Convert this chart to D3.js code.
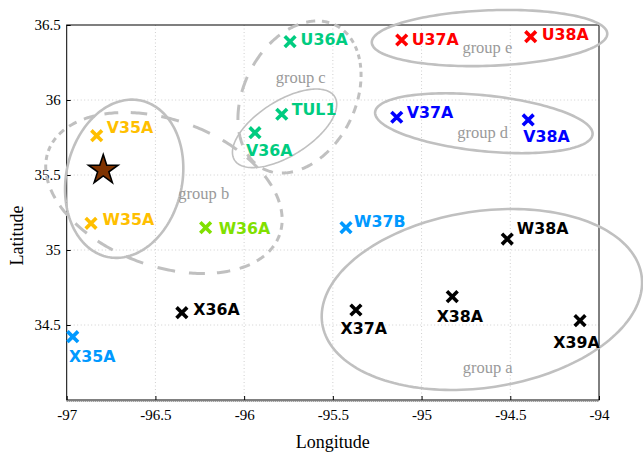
<!DOCTYPE html>
<html>
<head>
<meta charset="utf-8">
<script src="https://cdn.jsdelivr.net/npm/d3@7"></script>
<style>
  html, body { margin: 0; padding: 0; background: #fff; }
  svg { display: block; }
</style>
</head>
<body>
<svg id="chart" width="643" height="452"></svg>
<script>
// ---- station data ----
const stations = ["V35A", "W35A", "X35A", "X36A", "W36A", "U36A", "TUL1", "V36A", "U37A",
                  "U38A", "V37A", "V38A", "W37B", "X37A", "W38A", "X38A", "X39A"];
const stationLon = [-96.831, -96.863, -96.966, -96.351, -96.217, -95.741, -95.788, -95.939, -95.112,
                    -94.385, -95.140, -94.399, -95.426, -95.370, -94.517, -94.827, -94.107];
const stationLat = [35.762, 35.178, 34.422, 34.582, 35.149, 36.389, 35.905, 35.782, 36.400,
                    36.422, 35.885, 35.867, 35.149, 34.600, 35.073, 34.689, 34.529];

// event location
const eventLon = [-96.794];
const eventLat = [35.533];

// ---- station groupings (ellipse centre, half-axes in degrees, tilt in degrees) ----
const groupOutline = ["a", "b", "b2", "c", "c2", "d", "e"];
const groupLon  = [-94.660, -96.676, -96.452, -95.772, -95.688, -94.649, -94.617];
const groupLat  = [34.670, 35.475, 35.380, 35.811, 36.020, 35.845, 36.413];
const groupRx   = [0.910, 0.327, 0.693, 0.334, 0.453, 0.616, 0.664];
const groupRy   = [0.588, 0.533, 0.487, 0.183, 0.372, 0.186, 0.185];
const groupTilt = [-8.6, 12, 20, -32.4, -63.3, 5.9, -2.2];
const groupDashed = [false, false, true, false, true, false, false];

// group captions
const groupLabels = ["group a", "group b", "group c", "group d", "group e"];
const groupLabelLon = [-94.768, -96.371, -95.822, -94.799, -94.770];
const groupLabelLat = [34.178, 35.338, 36.111, 35.749, 36.313];

// axis ticks
const lonTicks = [-97, -96.5, -96, -95.5, -95, -94.5, -94];
const latTicks = [34.5, 35, 35.5, 36, 36.5];

// ---- styling ----
const stationColor = {
  V35A: "#ffbf00", W35A: "#ffbf00",
  X35A: "#0099ff", W37B: "#0099ff",
  W36A: "#80e000",
  U36A: "#00cc80", TUL1: "#00cc80", V36A: "#00cc80",
  U37A: "#ff0000", U38A: "#ff0000",
  V37A: "#0000ff", V38A: "#0000ff",
  X36A: "#000", X37A: "#000", W38A: "#000", X38A: "#000", X39A: "#000"
};
// text offset from the marker: [dx to text start, dy to baseline]
const labelOffset = {
  V35A: [10, -3], W35A: [11.5, 1.5], W36A: [13, 6], U36A: [10.5, 3.5], TUL1: [10, 1],
  U37A: [10, 5], U38A: [11, 3.5], V37A: [10, 1], W37B: [8, -1], W38A: [9.5, -5], X36A: [11.5, 2],
  X35A: [-3.7, 25], V36A: [-9, 23.5], X37A: [-15.3, 24], V38A: [-5, 22], X38A: [-15.6, 25.6],
  X39A: [-26.7, 27.6]
};
// dash layout of the dashed outlines: count, and how the dash spacing swells around the loop
const dashStyle = {
  b2: { n: 30, w1: 0.1, p1: Math.PI, w2: 0.3, p2: 0 },
  c2: { n: 25, w1: 0.5, p1: Math.PI / 4, w2: 0, p2: 0 }
};

const svg = d3.select("#chart");
const plot = { left: 66.7, right: 599, top: 25, bottom: 400 };

const x = d3.scaleLinear().domain([-97, -94]).range([plot.left, plot.right]);
const y = d3.scaleLinear().domain([34, 36.5]).range([plot.bottom, plot.top]);

const serif = "'Liberation Serif', 'DejaVu Serif', serif";
const sans = "'DejaVu Sans', sans-serif";

// grid
const grid = svg.append("g").attr("stroke", "#cfcfcf").attr("stroke-width", 1)
  .attr("stroke-dasharray", "1,2.5");
grid.selectAll(".gx").data(lonTicks.slice(1, -1)).join("line")
  .attr("x1", d => x(d)).attr("x2", d => x(d))
  .attr("y1", plot.top).attr("y2", plot.bottom);
grid.selectAll(".gy").data(latTicks.slice(0, -1)).join("line")
  .attr("x1", plot.left).attr("x2", plot.right)
  .attr("y1", d => y(d)).attr("y2", d => y(d));

// axes with inward ticks
const xAxis = d3.axisBottom(x).tickValues(lonTicks).tickSize(-4).tickPadding(12)
  .tickFormat(d => String(d));
const yAxis = d3.axisLeft(y).tickValues(latTicks).tickSize(-4).tickPadding(6)
  .tickFormat(d => String(d));

const gx = svg.append("g").attr("transform", `translate(0,${plot.bottom})`).call(xAxis);
const gy = svg.append("g").attr("transform", `translate(${plot.left},0)`).call(yAxis);
[gx, gy].forEach(g => {
  g.select(".domain").remove();
  g.selectAll(".tick line").attr("stroke", "#000").attr("stroke-width", 1);
  g.selectAll(".tick text").attr("font-family", serif).attr("font-size", 15).attr("fill", "#000");
});
gx.selectAll(".tick text").attr("dy", "0.55em");

// frame
svg.append("rect")
  .attr("x", plot.left).attr("y", plot.top)
  .attr("width", plot.right - plot.left).attr("height", plot.bottom - plot.top)
  .attr("fill", "none").attr("stroke", "#000").attr("stroke-width", 1);
svg.append("line")
  .attr("x1", plot.left).attr("x2", plot.right)
  .attr("y1", plot.bottom + 1.5).attr("y2", plot.bottom + 1.5)
  .attr("stroke", "#777").attr("stroke-width", 1).attr("stroke-dasharray", "1,1");

// axis titles
svg.append("text").attr("x", (plot.left + plot.right) / 2).attr("y", 448)
  .attr("text-anchor", "middle").attr("font-family", serif).attr("font-size", 18)
  .text("Longitude");
svg.append("text").attr("transform", `translate(23,${(plot.top + plot.bottom) / 2 + 23}) rotate(-90)`)
  .attr("text-anchor", "middle").attr("font-family", serif).attr("font-size", 18)
  .text("Latitude");

// ---- group outlines ----
const kx = x(-96) - x(-97);
const ky = y(34) - y(35);
function ellipsePoint(i, t) {
  const a = groupRx[i] * kx, b = groupRy[i] * ky;
  const th = groupTilt[i] * Math.PI / 180;
  const ex = a * Math.cos(t), ey = b * Math.sin(t);
  return [x(groupLon[i]) + ex * Math.cos(th) - ey * Math.sin(th),
          y(groupLat[i]) + ex * Math.sin(th) + ey * Math.cos(th)];
}
const line = d3.line();
const outlines = svg.append("g").attr("fill", "none").attr("stroke", "#c0c0c0");
groupOutline.forEach((name, i) => {
  if (!groupDashed[i]) {
    const pts = d3.range(0, 181).map(k => ellipsePoint(i, k / 180 * 2 * Math.PI));
    outlines.append("path").attr("d", line(pts) + "Z")
      .attr("stroke-width", name === "c" ? 1.6 : 2.6);
  } else {
    const ds = dashStyle[name];
    // warped loop parameter: dashes shrink near p1 / p2 and stretch opposite them
    const warp = s => s - ds.w1 * Math.sin(s - ds.p1) - ds.w2 / 2 * Math.sin(2 * (s - ds.p2));
    const step = 2 * Math.PI / ds.n;
    for (let k = 0; k < ds.n; k++) {
      const s0 = k * step;
      const pts = d3.range(0, 9).map(j => ellipsePoint(i, warp(s0 + j / 8 * step * 0.55)));
      outlines.append("path").attr("d", line(pts)).attr("stroke-width", 3);
    }
  }
});

// group captions
svg.append("g").selectAll("text").data(groupLabels).join("text")
  .attr("x", (d, i) => x(groupLabelLon[i]))
  .attr("y", (d, i) => y(groupLabelLat[i]))
  .attr("font-family", serif).attr("font-size", 16.5).attr("fill", "#9a9a9a")
  .text(d => d);

// ---- stations ----
const xSym = d3.symbol(d3.symbolX, 76)();
const st = svg.append("g").selectAll("g").data(stations).join("g")
  .attr("transform", (d, i) => `translate(${x(stationLon[i])},${y(stationLat[i])})`);
st.append("path").attr("d", xSym)
  .attr("fill", "none").attr("stroke", d => stationColor[d]).attr("stroke-width", 3.6);
st.append("text")
  .attr("x", d => labelOffset[d][0]).attr("y", d => labelOffset[d][1])
  .attr("font-family", sans).attr("font-weight", "bold").attr("font-size", 15.8)
  .attr("fill", d => stationColor[d])
  .text(d => d);

// event star
svg.append("g").selectAll("path").data(eventLon).join("path")
  .attr("transform", (d, i) => `translate(${x(d)},${y(eventLat[i])})`)
  .attr("d", d3.symbol(d3.symbolStar, 270)())
  .attr("fill", "#7f3300").attr("stroke", "#000").attr("stroke-width", 1.6);
</script>
</body>
</html>
